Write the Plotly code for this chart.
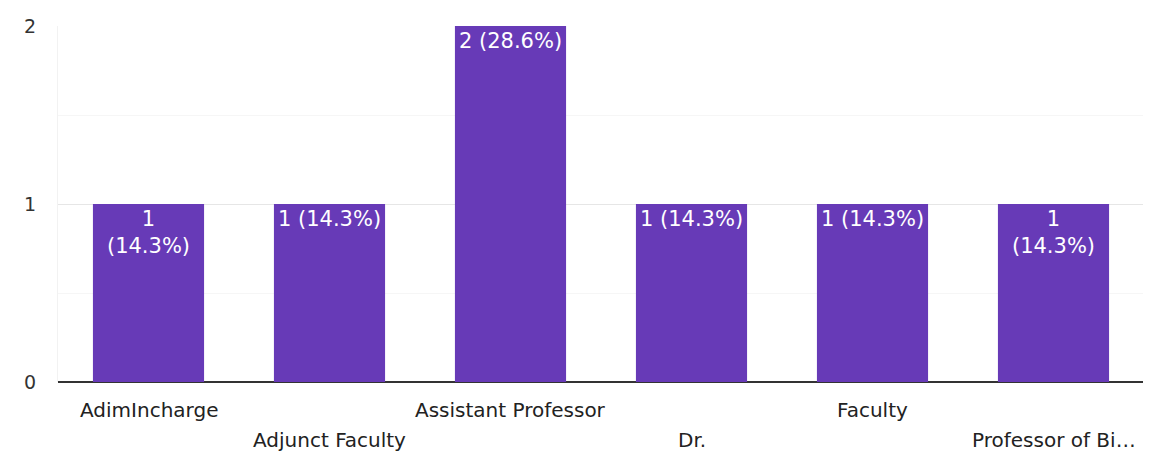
import plotly.graph_objects as go

categories = ["AdimIncharge", "Adjunct Faculty", "Assistant Professor", "Dr.", "Faculty", "Professor of Bi\u2026"]
counts = [1, 1, 2, 1, 1, 1]
bar_labels = ["1<br>(14.3%)", "1 (14.3%)", "2 (28.6%)", "1 (14.3%)", "1 (14.3%)", "1<br>(14.3%)"]
y_ticks = [0, 1, 2]

FONT = "DejaVu Sans, Arial, sans-serif"

fig = go.Figure()
fig.add_trace(go.Bar(
    x=list(range(len(categories))),
    y=counts,
    text=bar_labels,
    textposition="inside",
    insidetextanchor="end",
    constraintext="none",
    textfont=dict(family=FONT, size=21, color="white"),
    marker=dict(color="#673ab7", line=dict(width=0)),
    hoverinfo="skip",
))

# staggered category labels
for i, c in enumerate(categories):
    fig.add_annotation(
        x=i, y=0, xref="x", yref="y",
        text=c, showarrow=False,
        yanchor="top", yshift=-14 if i % 2 == 0 else -44,
        font=dict(family=FONT, size=20, color="#222222"),
    )

fig.update_layout(
    width=1143, height=447,
    margin=dict(l=50, r=7, t=16, b=73),
    paper_bgcolor="white", plot_bgcolor="white",
    showlegend=False,
    bargap=0.386,
    font=dict(family=FONT),
)
fig.update_xaxes(
    range=[-0.5, len(categories) - 0.5],
    showticklabels=False, showgrid=False, zeroline=False,
    showline=False,
)
fig.update_yaxes(
    range=[0, 2],
    tickvals=y_ticks,
    ticktext=[str(v) for v in y_ticks],
    tickfont=dict(family=FONT, size=19, color="#333333"),
    ticklabelstandoff=17,
    showgrid=True, gridcolor="#e6e6e6", gridwidth=1,
    minor=dict(dtick=0.5, showgrid=True, gridcolor="#f6f6f6"),
    zeroline=True, zerolinecolor="#333333", zerolinewidth=2,
    showline=True, linecolor="#f2f2f2", linewidth=1,
)

fig.write_html("out.html")
